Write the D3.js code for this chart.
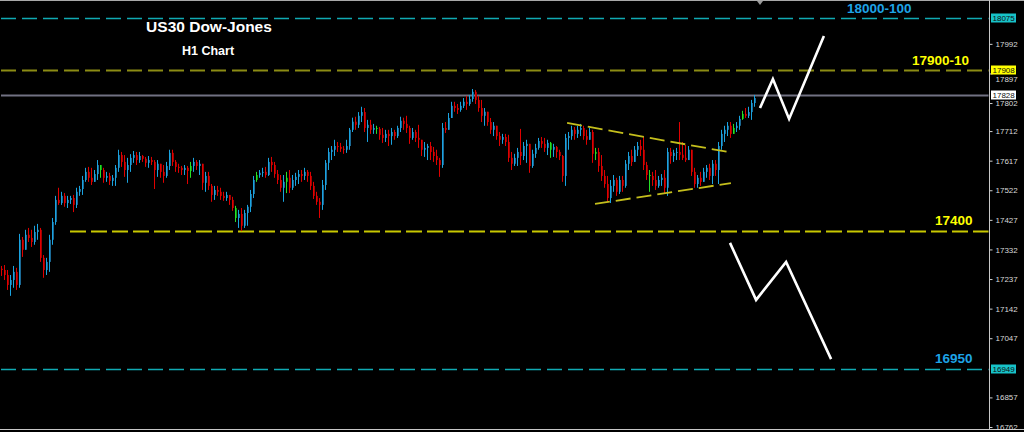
<!DOCTYPE html>
<html><head><meta charset="utf-8">
<script src="https://cdn.jsdelivr.net/npm/d3@7"></script>
<style>html,body{margin:0;padding:0;background:#000;overflow:hidden}</style>
</head><body><svg id="c" width="1024" height="432"></svg>
<script>
// ---------- data ----------
const firstOpen = 17270;
const highs = [
17279,17282,17266,17250,17279,17273,17382,17372,17395,17401,
17395,17408,17414,17401,17314,17305,17379,17433,17504,17530,
17517,17513,17504,17504,17507,17530,17536,17568,17594,17597,
17594,17587,17619,17603,17594,17581,17578,17571,17603,17652,
17645,17635,17626,17638,17648,17645,17645,17635,17629,17632,
17629,17619,17619,17607,17603,17613,17652,17652,17619,17607,
17600,17603,17600,17613,17626,17619,17619,17600,17581,17581,
17542,17536,17536,17530,17517,17517,17507,17501,17472,17459,
17465,17459,17475,17523,17568,17581,17587,17594,17597,17626,
17629,17613,17587,17571,17571,17581,17587,17571,17578,17587,
17587,17594,17587,17581,17549,17517,17497,17555,17619,17658,
17664,17684,17677,17674,17664,17684,17722,17755,17758,17773,
17790,17786,17748,17748,17735,17729,17725,17722,17716,17716,
17722,17716,17729,17758,17755,17761,17729,17722,17716,17732,
17684,17677,17671,17677,17661,17652,17626,17738,17741,17770,
17806,17806,17799,17806,17818,17825,17828,17847,17844,17825,
17812,17786,17774,17754,17741,17722,17709,17703,17703,17700,
17645,17639,17658,17719,17677,17684,17668,17652,17671,17690,
17693,17690,17684,17677,17671,17664,17652,17635,17703,17709,
17729,17725,17729,17735,17729,17716,17722,17716,17658,17658,
17635,17587,17568,17555,17571,17562,17568,17568,17619,17645,
17652,17664,17677,17684,17693,17613,17587,17581,17587,17568,
17574,17587,17658,17658,17652,17658,17741,17677,17668,17664,
17652,17594,17571,17581,17594,17603,17607,17619,17619,17677,
17716,17729,17741,17741,17735,17741,17761,17777,17786,17790,
17812,17828];
const lows = [
17247,17234,17202,17183,17209,17202,17209,17308,17331,17356,
17340,17347,17363,17292,17241,17250,17260,17347,17411,17475,
17475,17469,17465,17478,17452,17465,17504,17507,17549,17549,
17539,17549,17555,17562,17546,17549,17539,17536,17536,17581,
17597,17565,17546,17581,17610,17603,17610,17613,17597,17594,
17603,17526,17565,17562,17546,17562,17587,17600,17581,17578,
17571,17571,17542,17562,17581,17587,17571,17523,17517,17523,
17485,17491,17504,17491,17488,17488,17475,17456,17420,17401,
17391,17401,17408,17452,17497,17549,17562,17565,17562,17568,
17581,17562,17542,17517,17485,17513,17513,17523,17536,17542,
17549,17555,17549,17523,17494,17475,17433,17459,17523,17587,
17619,17632,17645,17645,17639,17642,17652,17709,17716,17722,
17741,17709,17677,17703,17703,17703,17684,17674,17677,17664,
17668,17684,17690,17709,17716,17706,17671,17684,17677,17658,
17632,17629,17619,17619,17613,17603,17565,17594,17706,17722,
17754,17774,17767,17774,17786,17780,17793,17806,17799,17774,
17741,17729,17729,17703,17696,17684,17664,17671,17664,17613,
17587,17600,17600,17603,17619,17610,17578,17594,17626,17652,
17658,17645,17635,17626,17629,17626,17619,17549,17536,17652,
17684,17684,17690,17696,17684,17668,17684,17610,17619,17581,
17552,17530,17485,17481,17517,17504,17510,17517,17530,17587,
17600,17613,17632,17632,17587,17555,17517,17536,17523,17530,
17536,17510,17504,17607,17613,17619,17619,17619,17613,17619,
17568,17530,17530,17536,17549,17562,17555,17542,17568,17542,
17652,17677,17696,17690,17703,17709,17716,17748,17754,17754,
17748,17790];
const closes = [
17266,17250,17218,17234,17260,17218,17363,17331,17379,17369,
17356,17388,17395,17305,17266,17292,17363,17420,17491,17481,
17504,17481,17491,17497,17475,17517,17526,17555,17581,17562,
17549,17574,17603,17587,17562,17568,17552,17562,17594,17635,
17613,17587,17603,17626,17635,17619,17632,17623,17610,17619,
17613,17587,17607,17581,17568,17600,17642,17613,17597,17594,
17587,17594,17584,17600,17613,17600,17607,17546,17568,17536,
17507,17523,17517,17504,17497,17507,17491,17465,17433,17446,
17408,17449,17469,17510,17555,17571,17578,17581,17571,17613,
17603,17574,17555,17530,17549,17562,17530,17555,17565,17574,
17568,17581,17568,17536,17504,17485,17475,17539,17610,17645,
17652,17664,17661,17655,17652,17664,17716,17742,17732,17761,
17773,17722,17732,17716,17722,17719,17700,17690,17703,17696,
17709,17696,17722,17745,17735,17722,17690,17709,17690,17684,
17652,17658,17664,17645,17632,17619,17603,17722,17716,17754,
17793,17786,17780,17793,17806,17799,17815,17838,17812,17786,
17761,17774,17741,17716,17729,17696,17684,17693,17677,17626,
17607,17626,17645,17632,17664,17671,17600,17639,17658,17680,
17671,17658,17674,17652,17661,17645,17632,17568,17690,17696,
17716,17703,17716,17722,17696,17684,17709,17639,17645,17600,
17568,17542,17497,17536,17555,17517,17555,17536,17607,17632,
17613,17652,17664,17652,17603,17571,17568,17555,17536,17555,
17562,17530,17645,17632,17642,17645,17636,17626,17619,17652,
17581,17542,17562,17549,17581,17594,17568,17607,17587,17664,
17703,17716,17729,17703,17722,17729,17751,17767,17761,17773,
17802,17818];
const greenBars = [33, 63, 78, 85, 95, 125, 183, 198, 216, 244, 247];

const axisTicks = [17992,17897,17802,17712,17617,17522,17427,17332,17237,17142,17047,16857,16762];
const boxPrices = [18075, 17908, 17828, 16949];
const boxColors = ["#17c2c8", "#ffff00", "#ffffff", "#17c2c8"];

const levelPrices = [18075, 17908, 17828, 17391, 16949];
const levelStart  = [0, 0, 0, 23, 0];          // bar index where the line starts
const levelColors = ["#10aab3", "#8c8c14", "#717182", "#c8c800", "#10aab3"];
const levelWidths = [1.5, 2, 2, 2, 1.5];
const levelDash   = ["15,6", "15,6", null, "16,5", "15,6"];

const levelTexts  = ["18000-100", "17900-10", "17400", "16950"];
const levelTextPrice = [18075, 17908, 17391, 16949];
const levelTextColors = ["#1ea3e6", "#ffff00", "#ffff00", "#1ea3e6"];

const triTop = [[188.7, 17738], [242.3, 17645]];
const triBottom = [[198, 17478], [243.3, 17545]];
const zigUp = [[253, 17786], [257.3, 17879], [262.7, 17751], [274.3, 18017]];
const zigDown = [[243, 17353], [251.7, 17170], [261.7, 17292], [276.7, 16980]];

const titleText = "US30 Dow-Jones";
const subtitleText = "H1 Chart";

// ---------- drawing ----------
const W = 1024, H = 432, axisX = 989.5;
const FONT = "Liberation Sans, Arial, sans-serif";
const svg = d3.select("#c");
svg.append("rect").attr("width", W).attr("height", H).attr("fill", "#000");

const x = d3.scaleLinear().domain([0, 330]).range([1, 991]);
const y = d3.scaleLinear().domain([16762, 18075]).range([427, 18]);

const bars = closes.map((c, i) => {
  const o = i === 0 ? firstOpen : closes[i - 1];
  return { i, o, c, h: Math.max(highs[i], o, c), l: Math.min(lows[i], o, c) };
});

const plot = svg.append("g");

// level lines
levelPrices.forEach((p, k) => {
  const ln = plot.append("line")
    .attr("x1", x(levelStart[k])).attr("x2", axisX - 1)
    .attr("y1", Math.round(y(p)) + 0.5).attr("y2", Math.round(y(p)) + 0.5)
    .attr("stroke", levelColors[k]).attr("stroke-width", levelWidths[k]);
  if (levelDash[k]) ln.attr("stroke-dasharray", levelDash[k]);
});

// candles
const cg = plot.append("g");
bars.forEach(b => {
  const cx = Math.round(x(b.i));
  const green = greenBars.includes(b.i);
  const bull = b.c >= b.o;
  const wick = green ? "#26e026" : (bull ? "#1aa3e0" : "#e00000");
  const body = green ? "#0c9c0c" : (bull ? "#1b6a96" : "#a20000");
  const yt = y(Math.max(b.o, b.c)), yb = y(Math.min(b.o, b.c));
  cg.append("rect").attr("x", cx).attr("width", 2)
    .attr("y", yt).attr("height", Math.max(1, yb - yt)).attr("fill", body);
  cg.append("line").attr("x1", cx + 0.5).attr("x2", cx + 0.5)
    .attr("y1", y(b.h)).attr("y2", y(b.l)).attr("stroke", wick).attr("stroke-width", 1);
});

// triangle lines
const lineGen = d3.line().x(d => x(d[0])).y(d => y(d[1]));
[triTop, triBottom].forEach(t => {
  plot.append("path").attr("d", lineGen(t)).attr("fill", "none")
    .attr("stroke", "#c4be1c").attr("stroke-width", 1.8).attr("stroke-dasharray", "15,6");
});

// zigzag projections
[zigUp, zigDown].forEach(z => {
  plot.append("path").attr("d", lineGen(z)).attr("fill", "none")
    .attr("stroke", "#ffffff").attr("stroke-width", 2.6).attr("stroke-linejoin", "miter");
});

// level texts
const textPos = [[847, -5], [912, -5], [935, -6], [935, -6]];
levelTexts.forEach((t, k) => {
  svg.append("text").attr("x", textPos[k][0]).attr("y", Math.round(y(levelTextPrice[k])) + textPos[k][1])
    .attr("fill", levelTextColors[k]).attr("font-family", FONT)
    .attr("font-weight", "bold").attr("font-size", "13.5px").text(t);
});

// title
svg.append("text").attr("x", 209).attr("y", 32).attr("text-anchor", "middle")
  .attr("fill", "#ffffff").attr("font-family", FONT)
  .attr("font-weight", "bold").attr("font-size", "15.5px").text(titleText);
svg.append("text").attr("x", 208).attr("y", 55).attr("text-anchor", "middle")
  .attr("fill", "#ffffff").attr("font-family", FONT)
  .attr("font-weight", "bold").attr("font-size", "12.5px").text(subtitleText);

// frame lines
svg.append("line").attr("x1", 0).attr("x2", W).attr("y1", 0.5).attr("y2", 0.5).attr("stroke", "#a8a8a8");
svg.append("line").attr("x1", 0).attr("x2", W).attr("y1", 429.5).attr("y2", 429.5).attr("stroke", "#c8c8c8");
svg.append("path").attr("d", `M${x(253) - 3},1 L${x(253) + 3},1 L${x(253)},5 Z`).attr("fill", "#9a9a9a");

// right price axis
const axis = d3.axisRight(y).tickValues(axisTicks).tickSize(3).tickPadding(3).tickFormat(d3.format("d"));
const ag = svg.append("g").attr("transform", `translate(${axisX},0)`).call(axis);
ag.select(".domain").attr("stroke", "#c8c8c8").attr("d", "M0,0V430");
ag.selectAll(".tick line").attr("stroke", "#d0d0d0");
ag.selectAll(".tick text").attr("fill", "#d8d8d8")
  .attr("font-family", FONT).attr("font-size", "8px");
// label sitting just under the 17908 price box: nudge it below the box
ag.selectAll(".tick text").filter(d => d === 17897).attr("dy", "1.05em");

// price boxes
boxPrices.forEach((p, k) => {
  const yy = Math.round(y(p));
  svg.append("rect").attr("x", 991).attr("y", yy - 4.5).attr("width", 25).attr("height", 9)
    .attr("fill", boxColors[k]);
  svg.append("text").attr("x", 992.5).attr("y", yy + 3).attr("fill", "#101010")
    .attr("font-family", FONT).attr("font-size", "8px").text(String(p));
});
</script></body></html>
